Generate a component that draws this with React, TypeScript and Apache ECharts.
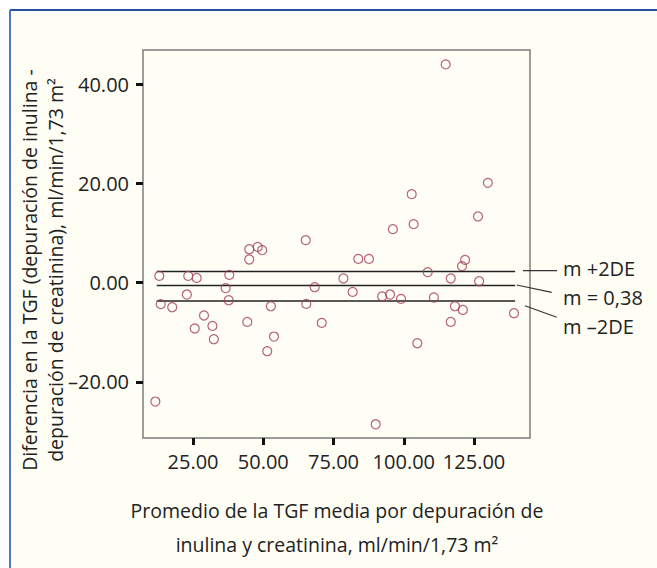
import React, { useEffect, useRef } from "react";
import * as echarts from "echarts";

// Bland-Altman data: [mean GFR, difference]
const pointX = [13.0, 13.5, 17.6, 11.6, 22.8, 23.3, 26.3, 25.6, 28.9, 31.9, 32.4, 37.9, 36.6, 37.7, 45.0, 45.0, 48.0, 49.6, 44.3, 52.7, 53.8, 51.4, 65.1, 65.3, 68.3, 70.8, 78.5, 81.8, 83.8, 87.6, 92.3, 95.1, 99.0, 90.0, 96.1, 102.8, 103.5, 104.8, 108.5, 110.7, 114.9, 116.7, 116.7, 118.2, 121.0, 120.7, 121.8, 126.4, 126.8, 129.9, 139.2];
const pointY = [1.37, -4.33, -4.94, -23.95, -2.38, 1.37, 0.97, -9.23, -6.61, -8.71, -11.39, 1.57, -1.11, -3.53, 6.75, 4.68, 7.22, 6.55, -7.9, -4.74, -10.85, -13.81, 8.57, -4.27, -0.91, -8.1, 0.85, -1.85, 4.8, 4.8, -2.78, -2.38, -3.27, -28.53, 10.79, 17.84, 11.79, -12.2, 2.12, -2.98, 43.99, 0.85, -7.9, -4.74, -5.48, 3.33, 4.6, 13.35, 0.3, 20.12, -6.15];

const refLineX = [12.1, 139.6];
const refLineY = [2.26, -0.56, -3.67];
const refLabels = ["m +2DE", "m = 0,38", "m \u20132DE"];

const xTicks = [25, 50, 75, 100, 125];
const yTicks = [-20, 0, 20, 40];

const xTitle = ["Promedio de la TGF media por depuración de", "inulina y creatinina, ml/min/1,73 m\u00B2"];
const yTitle = ["Diferencia en la TGF (depuración de inulina -", "depuración de creatinina), ml/min/1,73 m\u00B2"];

const FONT = "'Open Sans', 'Noto Sans', sans-serif";

export default function App() {
  const ref = useRef<HTMLDivElement>(null);
  useEffect(() => {
    if (!ref.current) return;
    const chart = echarts.init(ref.current, null, { renderer: "svg" });
    const fmt = (v: number) => v.toFixed(2).replace("-", "\u2013");
    const scatterData = pointX.map((x, i) => [x, pointY[i]]);
    const lineSeries = refLineY.map((y) => ({
      type: "line",
      data: refLineX.map((x) => [x, y]),
      symbol: "none",
      lineStyle: { color: "#222", width: 1.5 },
      z: 1,
      silent: true,
    }));
    const labelYs = [268, 297, 326];
    const leaders = [
      [523, 270.7, 557, 270.7],
      [516.7, 285, 551.7, 292.3],
      [525, 305.7, 556.7, 317.3],
    ];
    chart.setOption({
      animation: false,
      backgroundColor: "#FFFEF4",
      textStyle: { fontFamily: FONT },
      grid: {
        left: 143,
        top: 50,
        width: 387,
        height: 388,
        show: true,
        borderColor: "#7d7d7d",
        borderWidth: 1.5,
        backgroundColor: "transparent",
      },
      xAxis: {
        type: "value",
        min: 7.2,
        max: 144.9,
        axisLine: { show: false, onZero: false },
        splitLine: { show: false },
        axisTick: { show: true, customValues: xTicks, length: 7, lineStyle: { color: "#111", width: 3 } },
        axisLabel: { customValues: xTicks, formatter: fmt, color: "#222", fontSize: 20, margin: 13, fontFamily: FONT },
      },
      yAxis: {
        type: "value",
        min: -31.3,
        max: 46.9,
        axisLine: { show: false, onZero: false },
        splitLine: { show: false },
        axisTick: { show: true, customValues: yTicks, length: 7, lineStyle: { color: "#111", width: 3 } },
        axisLabel: { customValues: yTicks, formatter: fmt, color: "#222", fontSize: 20, margin: 14, fontFamily: FONT },
      },
      series: [
        ...lineSeries,
        {
          type: "scatter",
          data: scatterData,
          symbol: "circle",
          symbolSize: 9,
          itemStyle: { color: "rgba(0,0,0,0)", borderColor: "#a33d55", borderWidth: 1.2 },
          z: 3,
        },
      ],
      graphic: [
        { type: "rect", shape: { x: 0, y: 0, width: 657, height: 9 }, style: { fill: "#ffffff" }, silent: true },
        { type: "rect", shape: { x: 0, y: 0, width: 9, height: 568 }, style: { fill: "#ffffff" }, silent: true },
        { type: "line", shape: { x1: 10, y1: 10, x2: 657, y2: 10 }, style: { stroke: "#24509e", lineWidth: 2 }, silent: true },
        { type: "line", shape: { x1: 10, y1: 10, x2: 10, y2: 568 }, style: { stroke: "#4a78c4", lineWidth: 2 }, silent: true },
        ...leaders.map((l) => ({
          type: "line",
          shape: { x1: l[0], y1: l[1], x2: l[2], y2: l[3] },
          style: { stroke: "#333", lineWidth: 1.2 },
          silent: true,
        })),
        ...refLabels.map((t, i) => ({
          type: "text",
          x: 563,
          y: labelYs[i],
          style: { text: t, fill: "#222", font: `20px ${FONT}`, textAlign: "left", textVerticalAlign: "middle" },
          silent: true,
        })),
        ...xTitle.map((t, i) => ({
          type: "text",
          x: 337,
          y: 510 + i * 34,
          style: { text: t, fill: "#222", font: `19.5px ${FONT}`, textAlign: "center", textVerticalAlign: "middle" },
          silent: true,
        })),
        ...yTitle.map((t, i) => ({
          type: "text",
          x: 29 + i * 26,
          y: 270,
          rotation: Math.PI / 2,
          style: { text: t, fill: "#222", font: `19.5px ${FONT}`, textAlign: "center", textVerticalAlign: "middle" },
          silent: true,
        })),
      ],
    });
    return () => chart.dispose();
  }, []);
  return <div ref={ref} style={{ position: "fixed", left: 0, top: 0, width: 657, height: 568 }} />;
}
